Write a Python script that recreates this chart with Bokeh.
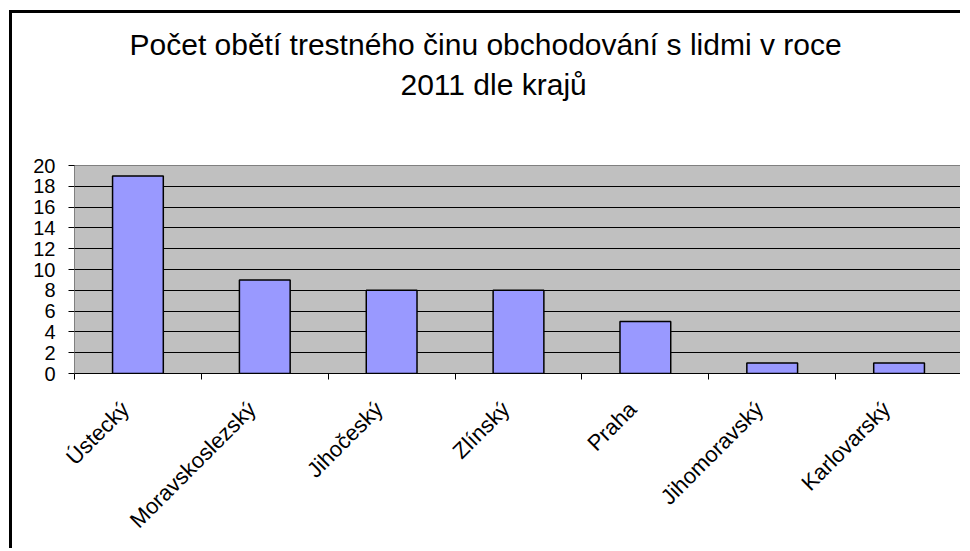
import math
from bokeh.plotting import figure
from bokeh.models import Range1d, FixedTicker, Title
from bokeh.embed import file_html
from bokeh.resources import INLINE

regions = ["Ústecký", "Moravskoslezský", "Jihočeský", "Zlínský", "Praha", "Jihomoravský", "Karlovarský"]
victims = [19, 9, 8, 8, 5, 1, 1]
y_ticks = [0, 2, 4, 6, 8, 10, 12, 14, 16, 18, 20]
title_line1 = "Počet obětí trestného činu obchodování s lidmi v roce"
title_line2 = "2011 dle krajů"

n = len(regions)
centers = [i + 0.5 for i in range(n)]
boundaries = list(range(n + 1))
label_shift = 0.1  # rotated labels sit slightly left of the bar centre
label_ticks = [c - label_shift for c in centers]

FONT = "Liberation Sans"

p = figure(width=951, height=538, output_backend="svg", toolbar_location=None,
           x_range=Range1d(0, n), y_range=Range1d(0, 20),
           min_border_left=62, min_border_right=1, min_border_top=152, min_border_bottom=178,
           title=title_line1)

p.title.text_font = FONT
p.title.text_font_size = "30px"
p.title.text_font_style = "normal"
p.title.text_color = "black"
p.title.align = "left"
p.title.offset = 55
p.title.standoff = 2

spacer = Title(text=" ", text_font=FONT, text_font_size="1px", standoff=58)
p.add_layout(spacer, "above")
t2 = Title(text=title_line2, text_font=FONT, text_font_size="30px", text_font_style="normal",
           text_color="black", align="left", offset=326, standoff=8)
p.add_layout(t2, "above")

p.background_fill_color = "#C0C0C0"
p.border_fill_color = "white"
p.outline_line_color = "#808080"
p.outline_line_width = 1

p.vbar(x=centers, top=victims, width=0.4, bottom=0,
       fill_color="#9999FF", line_color="black", line_width=1.5)

# grid
p.xgrid.visible = False
p.ygrid.ticker = FixedTicker(ticks=y_ticks)
p.ygrid.grid_line_color = "black"
p.ygrid.grid_line_width = 1

# y axis
yax = p.yaxis[0]
yax.ticker = FixedTicker(ticks=y_ticks)
yax.axis_line_color = "#808080"
yax.major_tick_line_color = "black"
yax.major_tick_in = 0
yax.major_tick_out = 6
yax.minor_tick_line_color = None
yax.major_label_text_font = FONT
yax.major_label_text_font_size = "20px"
yax.major_label_text_color = "black"
yax.major_label_standoff = 13

# x axis
xax = p.xaxis[0]
xax.ticker = FixedTicker(ticks=label_ticks, minor_ticks=boundaries)
xax.major_label_overrides = {t: r for t, r in zip(label_ticks, regions)}
xax.axis_line_color = "black"
xax.major_tick_line_color = None
xax.minor_tick_line_color = "black"
xax.minor_tick_in = 0
xax.minor_tick_out = 6
xax.major_label_orientation = math.pi / 4
xax.major_label_text_font = FONT
xax.major_label_text_font_size = "22px"
xax.major_label_text_color = "black"
xax.major_label_standoff = 26

p.styles = {"border-top": "3px solid #000", "border-left": "3px solid #000",
            "margin-left": "9px", "margin-top": "10px"}

open("out.html", "w").write(file_html(p, INLINE))
